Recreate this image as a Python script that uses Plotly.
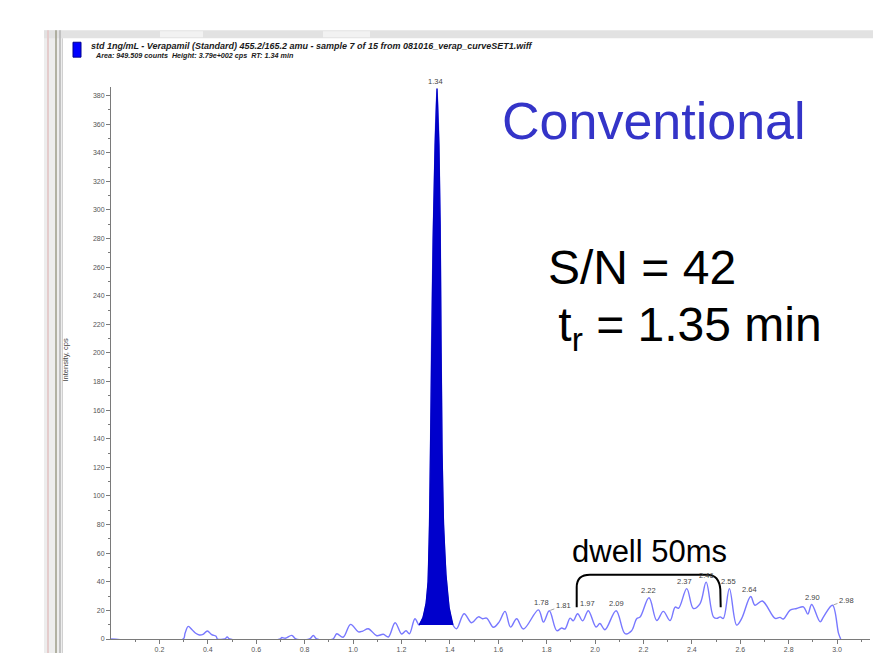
import plotly.graph_objects as go

# ---------------- data ----------------
time_min = [
    0.000, 0.298, 0.306, 0.319, 0.335, 0.350, 0.365, 0.380, 0.398, 0.416,
    0.434, 0.440, 0.470, 0.480, 0.490, 0.700, 0.705, 0.720, 0.747, 0.764,
    0.820, 0.836, 0.850, 0.917, 0.933, 0.959, 0.990, 1.022, 1.040, 1.063,
    1.098, 1.125, 1.146, 1.174, 1.201, 1.219, 1.233, 1.256, 1.273, 1.289,
    1.302, 1.310, 1.316, 1.320, 1.324, 1.331, 1.339, 1.347, 1.355, 1.360,
    1.364, 1.368, 1.374, 1.384, 1.397, 1.413, 1.428, 1.459, 1.490, 1.518,
    1.535, 1.552, 1.580, 1.604, 1.628, 1.651, 1.676, 1.704, 1.766, 1.787,
    1.811, 1.842, 1.862, 1.876, 1.897, 1.910, 1.928, 1.949, 1.972, 2.004,
    2.020, 2.041, 2.087, 2.124, 2.151, 2.172, 2.186, 2.223, 2.255, 2.282,
    2.310, 2.331, 2.345, 2.379, 2.406, 2.434, 2.459, 2.489, 2.503, 2.517,
    2.530, 2.555, 2.585, 2.606, 2.643, 2.661, 2.691, 2.744, 2.764, 2.778,
    2.806, 2.833, 2.861, 2.879, 2.895, 2.930, 2.944, 2.981, 3.006, 3.015,
]
intensity_cps = [
    0.0, 0.0, 4.0, 8.8, 6.5, 4.0, 2.8, 3.2, 5.6, 3.0,
    1.9, 0.0, 0.0, 1.4, 0.0, 0.0, 1.0, 0.5, 2.5, 0.0,
    0.0, 2.4, 0.0, 0.0, 3.7, 1.2, 10.2, 5.0, 5.5, 7.2,
    2.3, 3.3, 1.4, 11.4, 3.5, 5.8, 3.7, 14.2, 9.8, 15.0,
    25.0, 40.0, 80.0, 130.0, 200.0, 280.0, 345.0, 385.0, 345.0, 290.0,
    200.0, 130.0, 80.0, 45.0, 22.0, 9.8, 7.2, 17.7, 11.4, 15.5,
    14.2, 14.6, 8.2, 12.0, 19.3, 8.3, 14.2, 7.0, 20.4, 11.8,
    19.8, 5.8, 7.7, 7.0, 14.6, 12.7, 17.7, 12.7, 19.8, 8.4,
    10.8, 6.5, 19.8, 3.7, 5.8, 14.2, 15.3, 28.8, 12.9, 19.3,
    12.9, 22.3, 21.5, 35.2, 21.3, 24.8, 39.8, 15.5, 14.4, 15.5,
    14.4, 35.2, 9.7, 14.4, 29.7, 23.6, 26.6, 14.4, 15.1, 14.0,
    20.2, 21.3, 22.5, 17.4, 24.1, 12.0, 15.5, 23.6, 3.9, 0.0,
]
peak_window = [1.273, 1.413]          # integrated peak (filled)
peak_labels = ["1.34", "1.78", "1.81", "1.97", "2.09", "2.22", "2.37",
               "2.46", "2.55", "2.64", "2.90", "2.98"]
leader_labels = ["1.81", "2.98"]
y_ticks = list(range(0, 381, 20))
y_minor = list(range(10, 381, 20))
x_ticks = [0.2, 0.4, 0.6, 0.8, 1.0, 1.2, 1.4, 1.6, 1.8, 2.0, 2.2, 2.4, 2.6, 2.8, 3.0]
x_tick_labels = ["0.2", "0.4", "0.6", "0.8", "1.0", "1.2", "1.4", "1.6", "1.8",
                 "2.0", "2.2", "2.4", "2.6", "2.8", "3.0"]
x_minor = [0.1, 0.3, 0.5, 0.7, 0.9, 1.1, 1.3, 1.5, 1.7, 1.9, 2.1, 2.3, 2.5, 2.7, 2.9, 3.1]

header_1 = "std 1ng/mL - Verapamil (Standard) 455.2/165.2 amu - sample 7 of 15 from 081016_verap_curveSET1.wiff"
header_2 = "Area: 949.509 counts  Height: 3.79e+002 cps  RT: 1.34 min"

# ---------------- layout geometry ----------------
W, H = 873, 656
L, R, T, B = 111, 870, 87, 642
X_MAX = 3.136
Y_MAX = 386


def pxx(x):
    return (x - L) / (R - L)


def pxy(y):
    return (B - y) / (B - T)


FONT = "Liberation Sans, Arial, sans-serif"

fig = go.Figure()

fig.add_trace(go.Scatter(
    x=time_min, y=intensity_cps, mode="lines",
    line=dict(color="#7878ff", width=1.4, shape="spline", smoothing=1.0),
    hoverinfo="skip", showlegend=False,
))

pk_t = [t for t in time_min if peak_window[0] <= t <= peak_window[1]]
pk_v = [v for t, v in zip(time_min, intensity_cps) if peak_window[0] <= t <= peak_window[1]]
fig.add_trace(go.Scatter(
    x=pk_t, y=pk_v, mode="lines", fill="toself", fillcolor="#0000cc",
    line=dict(color="#0000c0", width=1.2),
    hoverinfo="skip", showlegend=False,
))

annotations = []
# peak labels
for lab in peak_labels:
    t0 = float(lab)
    cand = [(v, t) for t, v in zip(time_min, intensity_cps) if abs(t - t0) <= 0.02]
    vmax, tmax = max(cand)
    if lab in leader_labels:
        annotations.append(dict(
            x=tmax, y=vmax, xref="x", yref="y", text=lab, showarrow=True,
            ax=14, ay=-5, arrowhead=0, arrowwidth=0.6, arrowcolor="#666",
            standoff=1, font=dict(family=FONT, size=7.5, color="#444"),
        ))
    else:
        annotations.append(dict(
            x=t0, y=vmax, xref="x", yref="y", text=lab, showarrow=False,
            xanchor="center", yanchor="middle",
            yshift=7, font=dict(family=FONT, size=7.5, color="#444"),
        ))


def txt(x, y, text, size, color="#000", xanchor="center", yanchor="middle", **kw):
    return dict(x=pxx(x), y=pxy(y), xref="paper", yref="paper", text=text,
                showarrow=False, xanchor=xanchor, yanchor=yanchor,
                font=dict(family=FONT, size=size, color=color), **kw)


annotations += [
    txt(654, 121, "Conventional", 52, "#3434c8"),
    txt(642, 268, "S/N = 42", 48),
    txt(683, 329, " t<sub>r</sub> = 1.35 min", 48),
    txt(649, 554, "dwell 50ms", 31),
    txt(89, 46, "<b><i>" + header_1 + "</i></b>", 9.0, "#1a1a1a", xanchor="left"),
    txt(93, 55, "<b><i>" + header_2 + "</i></b>", 7.2, "#1a1a1a", xanchor="left"),
    txt(66, 362, "Intensity, cps", 7.5, "#444", textangle=-90),
]


def P(x, y):
    return f"{pxx(x):.5f},{pxy(y):.5f}"


bracket = (f"M {P(576.7, 610)} L {P(576.7, 590)} Q {P(576.7, 577.5)} {P(590, 577.5)} "
           f"L {P(708, 577.5)} Q {P(719, 578)} {P(720.3, 592)} L {P(720.7, 610)}")

shapes = [
    # window frame (left + top)
    dict(type="rect", xref="paper", yref="paper", x0=pxx(44), x1=pxx(62), y0=pxy(656), y1=pxy(30),
         fillcolor="#ededed", line=dict(width=0), layer="below"),
    dict(type="rect", xref="paper", yref="paper", x0=pxx(44), x1=pxx(873), y0=pxy(38), y1=pxy(30),
         fillcolor="#e2e2e2", line=dict(width=0), layer="below"),
    dict(type="rect", xref="paper", yref="paper", x0=pxx(160), x1=pxx(203), y0=pxy(37), y1=pxy(31),
         fillcolor="#f2f2f2", line=dict(width=0), layer="below"),
    dict(type="rect", xref="paper", yref="paper", x0=pxx(323), x1=pxx(370), y0=pxy(37), y1=pxy(31),
         fillcolor="#f2f2f2", line=dict(width=0), layer="below"),
    dict(type="line", xref="paper", yref="paper", x0=pxx(48), x1=pxx(48), y0=pxy(656), y1=pxy(30),
         line=dict(color="#e4cccc", width=2)),
    dict(type="line", xref="paper", yref="paper", x0=pxx(56), x1=pxx(56), y0=pxy(656), y1=pxy(30),
         line=dict(color="#9c9c88", width=1.5)),
    dict(type="line", xref="paper", yref="paper", x0=pxx(60), x1=pxx(60), y0=pxy(656), y1=pxy(30),
         line=dict(color="#b4b4b4", width=1.5)),
    dict(type="line", xref="paper", yref="paper", x0=pxx(62.5), x1=pxx(62.5), y0=pxy(656), y1=pxy(38),
         line=dict(color="#d0d0d0", width=1)),
    # blue trace marker
    dict(type="rect", xref="paper", yref="paper", x0=pxx(73), x1=pxx(81), y0=pxy(57), y1=pxy(42),
         fillcolor="#0000ff", line=dict(color="#000090", width=1)),
    # bracket
    dict(type="path", xref="paper", yref="paper", path=bracket,
         line=dict(color="#000", width=2)),
]

fig.update_layout(
    width=W, height=H,
    margin=dict(l=L, r=W - R, t=T, b=H - B, pad=0),
    paper_bgcolor="white", plot_bgcolor="white",
    font=dict(family=FONT),
    annotations=annotations, shapes=shapes,
    xaxis=dict(
        range=[0, X_MAX], showgrid=False, zeroline=False, showline=True,
        linecolor="#7a7a7a", linewidth=1, ticks="outside", ticklen=4, tickcolor="#7a7a7a",
        tickvals=x_ticks, ticktext=x_tick_labels,
        tickfont=dict(family=FONT, size=7, color="#555"),
        minor=dict(tickvals=x_minor, ticks="outside", ticklen=2, tickcolor="#7a7a7a"),
        fixedrange=True,
    ),
    yaxis=dict(
        range=[0, Y_MAX], showgrid=False, zeroline=False, showline=True,
        linecolor="#7a7a7a", linewidth=1, ticks="outside", ticklen=4, tickcolor="#7a7a7a",
        tickvals=y_ticks, ticktext=[str(v) for v in y_ticks],
        tickfont=dict(family=FONT, size=7, color="#555"),
        minor=dict(tickvals=y_minor, ticks="outside", ticklen=2, tickcolor="#7a7a7a"),
        fixedrange=True,
    ),
)

fig.write_html("out.html", config={"displayModeBar": False},
               post_script="document.body.style.margin='0';document.body.style.overflow='hidden';")
